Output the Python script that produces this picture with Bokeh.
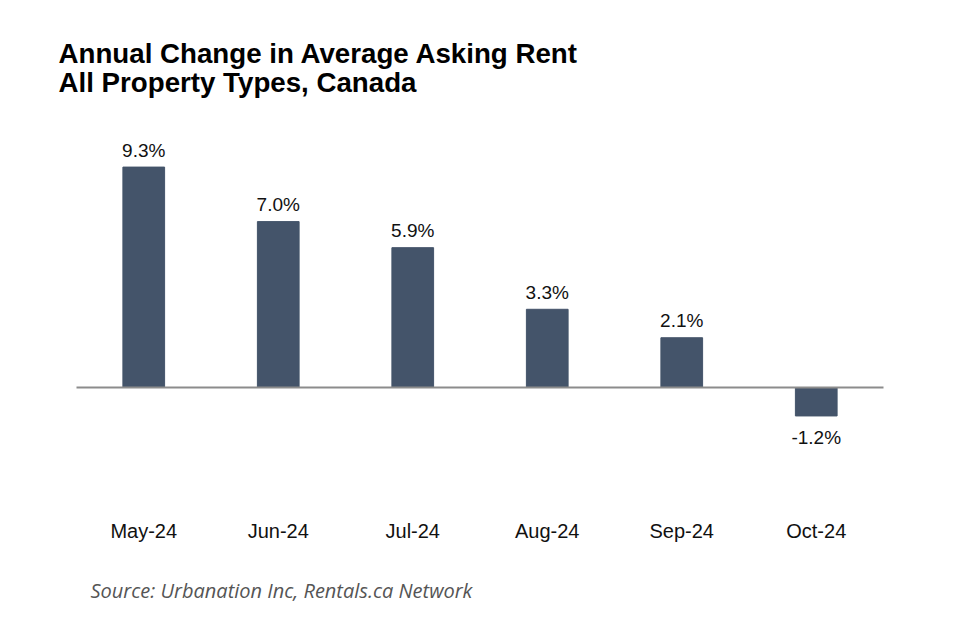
from bokeh.plotting import figure
from bokeh.models import ColumnDataSource, Range1d
from bokeh.core.properties import value
from bokeh.embed import file_html
from bokeh.resources import INLINE

months = ["May-24", "Jun-24", "Jul-24", "Aug-24", "Sep-24", "Oct-24"]
changes = [9.3, 7.0, 5.9, 3.3, 2.1, -1.2]
value_labels = [f"{v:.1f}%" for v in changes]
title_lines = ["Annual Change in Average Asking Rent", "All Property Types, Canada"]
source_note = "Source: Urbanation Inc, Rentals.ca Network"

W, H = 964, 612
# layout in canvas pixels
AXIS_LEFT, SLOT = 76.0, 134.5      # left edge of first category slot, slot width
ZERO_Y, PX_PER_UNIT = 387.0, 23.7  # pixel row of the zero line, pixels per 1%

def dx(px):
    return (px - AXIS_LEFT) / SLOT

def dy(py):
    return (ZERO_Y - py) / PX_PER_UNIT

p = figure(width=W, height=H,
           x_range=Range1d(dx(0), dx(W)), y_range=Range1d(dy(H), dy(0)),
           output_backend="svg", toolbar_location=None,
           min_border=0)
p.background_fill_color = "white"
p.border_fill_color = "white"
p.outline_line_color = None
p.xgrid.visible = False
p.ygrid.visible = False
p.xaxis.visible = False
p.yaxis.visible = False

xs = [i + 0.5 for i in range(len(months))]
src = ColumnDataSource(dict(x=xs, month=months, change=changes, label=value_labels))

p.vbar(x="x", top="change", bottom=0, width=0.31, source=src,
       fill_color="#44546A", line_color="#44546A")

# zero line across the category area
p.segment(x0=[0], y0=[0], x1=[len(months)], y1=[0], line_color="#8c8c8c", line_width=2)

pos_idx = [i for i, v in enumerate(changes) if v >= 0]
neg_idx = [i for i, v in enumerate(changes) if v < 0]
pos_src = ColumnDataSource(dict(x=[xs[i] for i in pos_idx], y=[changes[i] for i in pos_idx],
                                t=[value_labels[i] for i in pos_idx]))
neg_src = ColumnDataSource(dict(x=[xs[i] for i in neg_idx], y=[changes[i] for i in neg_idx],
                                t=[value_labels[i] for i in neg_idx]))
lab_font = value("Liberation Sans")
p.text(x="x", y="y", text="t", source=pos_src,
       text_align="center", text_baseline="alphabetic", y_offset=-17,
       text_font=lab_font, text_font_size="19px", text_color="#111111")
p.text(x="x", y="y", text="t", source=neg_src,
       text_align="center", text_baseline="alphabetic", y_offset=22,
       text_font=lab_font, text_font_size="19px", text_color="#111111")

# category labels
p.text(x="x", y=dy(530), text="month", source=src,
       text_align="center", text_baseline="middle",
       text_font=lab_font, text_font_size="20px", text_color="#111111")

# title
tsrc = ColumnDataSource(dict(x=[dx(58)] * 2, y=[dy(53), dy(82)], t=title_lines))
p.text(x="x", y="y", text="t", source=tsrc, text_baseline="alphabetic",
       text_font=lab_font, text_font_style="bold",
       text_font_size="27.7px", text_color="#000000")

# source note
p.text(x=[dx(90)], y=[dy(590)], text=[source_note], text_baseline="alphabetic",
       text_font=value("Open Sans"), text_font_style="italic",
       text_font_size="20px", text_color="#555555")

open("out.html", "w").write(file_html(p, INLINE))
